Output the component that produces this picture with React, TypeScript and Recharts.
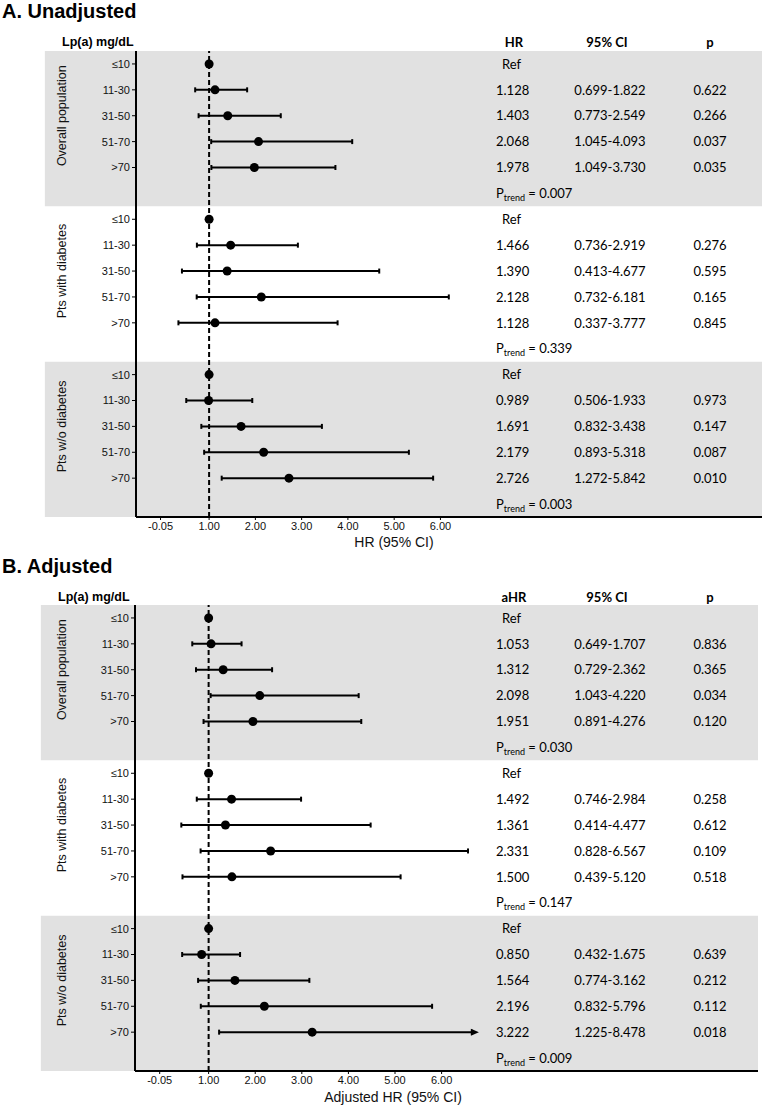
import { ScatterChart, Scatter, XAxis, YAxis, ErrorBar, ReferenceArea, ReferenceLine } from 'recharts'

const lpBins = ['≤10', '11-30', '31-50', '51-70', '>70']
const groupNames = ['Overall population', 'Pts with diabetes', 'Pts w/o diabetes']
const xTicks = [-0.05, 1, 2, 3, 4, 5, 6]

// A. unadjusted — first row of every group is the reference (≤10)
const unadjHr = [1, 1.128, 1.403, 2.068, 1.978, 1, 1.466, 1.39, 2.128, 1.128, 1, 0.989, 1.691, 2.179, 2.726]
const unadjLo = [null, 0.699, 0.773, 1.045, 1.049, null, 0.736, 0.413, 0.732, 0.337, null, 0.506, 0.832, 0.893, 1.272]
const unadjHi = [null, 1.822, 2.549, 4.093, 3.73, null, 2.919, 4.677, 6.181, 3.777, null, 1.933, 3.438, 5.318, 5.842]
const unadjP = [null, 0.622, 0.266, 0.037, 0.035, null, 0.276, 0.595, 0.165, 0.845, null, 0.973, 0.147, 0.087, 0.01]
const unadjTrend = [0.007, 0.339, 0.003]

// B. adjusted
const adjHr = [1, 1.053, 1.312, 2.098, 1.951, 1, 1.492, 1.361, 2.331, 1.5, 1, 0.85, 1.564, 2.196, 3.222]
const adjLo = [null, 0.649, 0.729, 1.043, 0.891, null, 0.746, 0.414, 0.828, 0.439, null, 0.432, 0.774, 0.832, 1.225]
const adjHi = [null, 1.707, 2.362, 4.22, 4.276, null, 2.984, 4.477, 6.567, 5.12, null, 1.675, 3.162, 5.796, 8.478]
const adjP = [null, 0.836, 0.365, 0.034, 0.12, null, 0.258, 0.612, 0.109, 0.518, null, 0.639, 0.212, 0.112, 0.018]
const adjTrend = [0.03, 0.147, 0.009]

// CI upper bounds above this are cut and drawn with an arrow
const ciCut = 6.65

const W = 762
const BAND = '#e1e1e1'
const TABLE_FONT = 'Lato, "Open Sans", sans-serif'

type Pt = {
  row: number
  hr: number
  err: [number, number]
  cut: boolean
  hrText: string
  ciText: string
  pText: string
  trend?: string
}

function buildRows(hr: number[], lo: (number | null)[], hi: (number | null)[], p: (number | null)[], trend: number[]) {
  const pts: Pt[] = hr.map((v, i) => {
    const g = Math.floor(i / 5)
    const k = i % 5
    const l = lo[i]
    const h = hi[i]
    const isRef = l == null || h == null
    const cut = !isRef && (h as number) > ciCut
    return {
      row: g * 6 + k,
      hr: v,
      err: isRef ? [0, 0] : [v - (l as number), (cut ? ciCut : (h as number)) - v],
      cut,
      hrText: isRef ? 'Ref' : v.toFixed(3),
      ciText: isRef ? '' : `${(l as number).toFixed(3)}-${(h as number).toFixed(3)}`,
      pText: p[i] == null ? '' : (p[i] as number).toFixed(3),
    }
  })
  const trends: Pt[] = trend.map((t, g) => ({
    row: g * 6 + 5, hr: 1, err: [0, 0], cut: false, hrText: '', ciText: '', pText: '', trend: t.toFixed(3),
  }))
  const arrows = pts.filter((d) => d.cut).map((d) => ({ row: d.row, hr: ciCut }))
  return { pts, table: [...pts, ...trends], arrows }
}

const TableRow = (props: any) => {
  const d: Pt = props.payload
  const y = props.cy
  if (d.trend) {
    return (
      <text x={496} y={y} dy="0.36em" fontFamily={TABLE_FONT} fontSize={13} fill="#000">
        P<tspan fontSize={9} dy={3}>trend</tspan>
        <tspan dy={-3}>{'\u00a0= ' + d.trend}</tspan>
      </text>
    )
  }
  return (
    <g fontFamily={TABLE_FONT} fontSize={13} fill="#000">
      <text x={d.hrText === 'Ref' ? 502 : 496} y={y} dy="0.36em">{d.hrText}</text>
      <text x={610} y={y} dy="0.36em" textAnchor="middle">{d.ciText}</text>
      <text x={710} y={y} dy="0.36em" textAnchor="middle">{d.pText}</text>
    </g>
  )
}

interface PanelProps {
  top: number
  height: number
  marginTop: number
  marginRight: number
  yWidth: number
  xMax: number
  bandLeft: number
  title: string
  lpX: number
  hrHead: string
  xLabel: string
  rows: ReturnType<typeof buildRows>
}

function Panel(p: PanelProps) {
  const plotBottom = p.marginTop + 466
  const yTicks = p.rows.pts.map((d) => d.row)
  return (
    <div style={{ position: 'absolute', left: 0, top: p.top, width: W, height: p.height }}>
      <ScatterChart
        width={W}
        height={p.height}
        margin={{ top: p.marginTop, right: p.marginRight, bottom: 0, left: 0 }}
      >
        {groupNames.map((name, g) => (
          <ReferenceArea
            key={name}
            y1={g * 6 - 0.5}
            y2={g * 6 + 5.5}
            x1={p.bandLeft}
            fill={g === 1 ? 'none' : BAND}
            fillOpacity={1}
            stroke="none"
            ifOverflow="visible"
            label={(lp: any) => {
              const vb = lp.viewBox
              const cx = 62
              const cy = vb.y + (vb.height * 2.5) / 6
              return (
                <text
                  x={cx}
                  y={cy}
                  transform={`rotate(-90, ${cx}, ${cy})`}
                  textAnchor="middle"
                  dominantBaseline="central"
                  fontSize={12.5}
                  fill="#111"
                >
                  {name}
                </text>
              )
            }}
          />
        ))}
        <XAxis
          type="number"
          dataKey="hr"
          domain={[-0.58, p.xMax]}
          allowDataOverflow
          ticks={xTicks}
          interval={0}
          tickFormatter={(v: number) => v.toFixed(2)}
          height={p.height - plotBottom}
          axisLine={{ stroke: '#000', strokeWidth: 2 }}
          tickLine={{ stroke: '#000' }}
          tickSize={3}
          tick={{ fontSize: 11, fill: '#111' }}
          label={(lp: any) => (
            <text x={lp.viewBox.x + 258} y={547} textAnchor="middle" fontSize={14} fill="#111">
              {p.xLabel}
            </text>
          )}
        />
        <YAxis
          type="number"
          dataKey="row"
          domain={[-0.5, 17.5]}
          allowDataOverflow
          reversed
          ticks={yTicks}
          interval={0}
          tickFormatter={(v: number) => lpBins[v % 6]}
          width={p.yWidth}
          axisLine={{ stroke: '#000', strokeWidth: 2 }}
          tickLine={{ stroke: '#000' }}
          tickSize={4}
          tick={{ fontSize: 11, fill: '#111' }}
        />
        <ReferenceLine x={1} stroke="#000" strokeWidth={2} strokeDasharray="5 3" />
        <Scatter data={p.rows.table} isAnimationActive={false} shape={TableRow} />
        <Scatter
          data={p.rows.pts}
          isAnimationActive={false}
          shape={(sp: any) => <circle cx={sp.cx} cy={sp.cy} r={4.5} fill="#000" />}
        >
          <ErrorBar
            dataKey="err"
            direction="x"
            width={2.5}
            stroke="#000"
            strokeWidth={2}
            isAnimationActive={false}
          />
        </Scatter>
        <Scatter
          data={p.rows.arrows}
          isAnimationActive={false}
          shape={(sp: any) => (
            <path
              d={`M${sp.cx - 1},${sp.cy - 3.5}L${sp.cx + 7},${sp.cy}L${sp.cx - 1},${sp.cy + 3.5}Z`}
              fill="#000"
            />
          )}
        />
      </ScatterChart>
      <svg
        width={W}
        height={60}
        style={{ position: 'absolute', left: 0, top: 0, pointerEvents: 'none' }}
      >
        <text x={2} y={18} fontSize={20} fontWeight="bold" fill="#000">{p.title}</text>
        <text x={p.lpX} y={45.5} fontSize={12.5} fontWeight="bold" fill="#000">Lp(a) mg/dL</text>
        <g fontFamily={TABLE_FONT} fontSize={13} fontWeight="bold" fill="#000" textAnchor="middle">
          <text x={514} y={47}>{p.hrHead}</text>
          <text x={607} y={47}>95% CI</text>
          <text x={710} y={47}>p</text>
        </g>
      </svg>
    </div>
  )
}

export default function App() {
  const unadjRows = buildRows(unadjHr, unadjLo, unadjHi, unadjP, unadjTrend)
  const adjRows = buildRows(adjHr, adjLo, adjHi, adjP, adjTrend)
  return (
    <div
      style={{
        position: 'absolute',
        left: 0,
        top: 0,
        width: W,
        height: 1105,
        background: '#fff',
        fontFamily: '"Liberation Sans", Arial, sans-serif',
        overflow: 'hidden',
      }}
    >
      <Panel
        top={0}
        height={555}
        marginTop={51}
        marginRight={0}
        yWidth={136}
        xMax={12.95}
        bandLeft={-2.55}
        title="A. Unadjusted"
        lpX={62}
        hrHead="HR"
        xLabel="HR (95% CI)"
        rows={unadjRows}
      />
      <Panel
        top={555}
        height={550}
        marginTop={50}
        marginRight={4}
        yWidth={135}
        xMax={12.79}
        bandLeft={-2.6}
        title="B. Adjusted"
        lpX={58}
        hrHead="aHR"
        xLabel="Adjusted HR (95% CI)"
        rows={adjRows}
      />
    </div>
  )
}
